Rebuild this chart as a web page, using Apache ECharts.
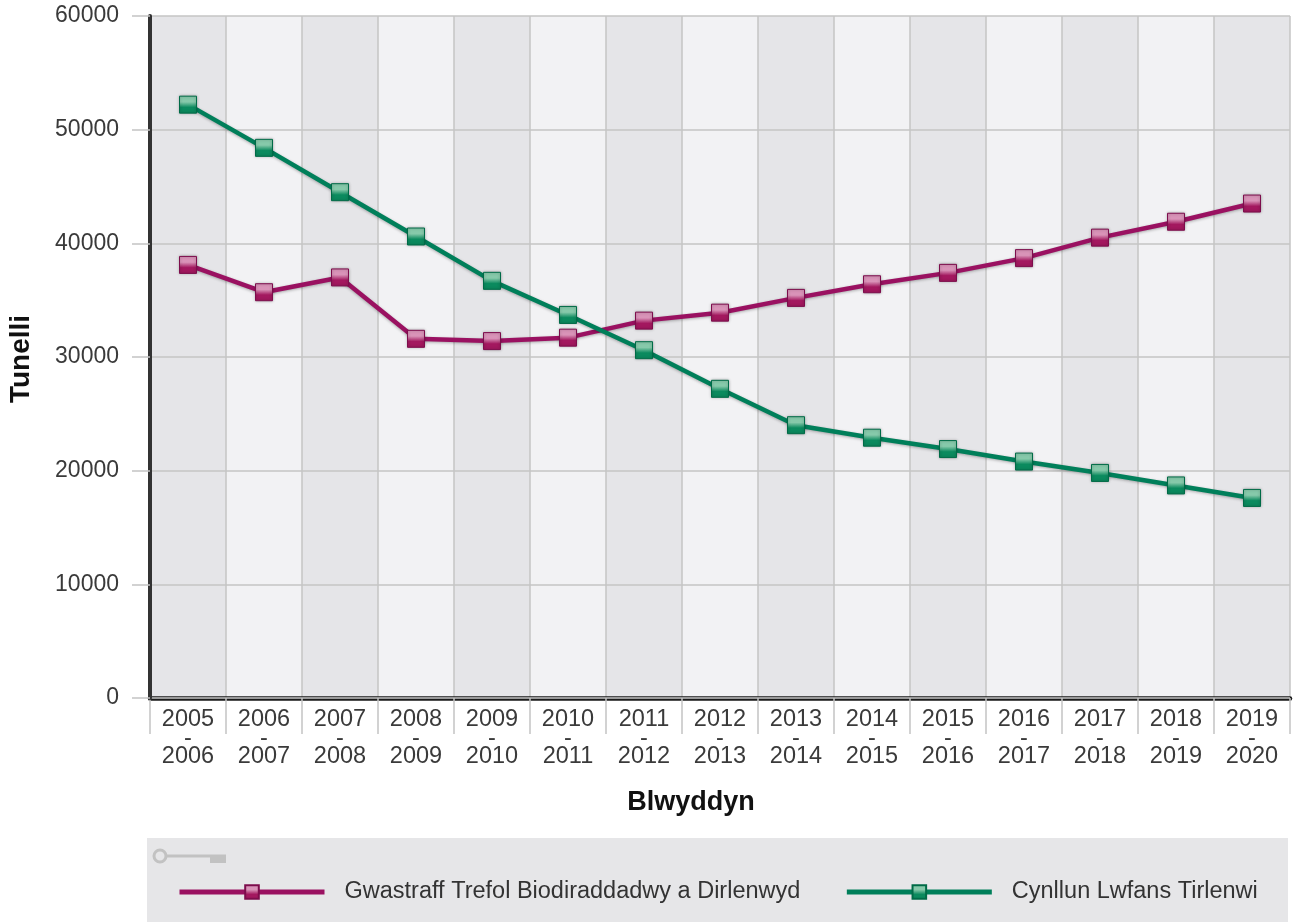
<!DOCTYPE html>
<html>
<head>
<meta charset="utf-8">
<script src="https://cdn.jsdelivr.net/npm/echarts@6/dist/echarts.min.js"></script>
<style>html,body{margin:0;padding:0;background:#fff;}#c{width:1293px;height:922px;}</style>
</head>
<body>
<div id="c"></div>
<script>
const categories = ['2005\n-\n2006','2006\n-\n2007','2007\n-\n2008','2008\n-\n2009','2009\n-\n2010','2010\n-\n2011','2011\n-\n2012','2012\n-\n2013','2013\n-\n2014','2014\n-\n2015','2015\n-\n2016','2016\n-\n2017','2017\n-\n2018','2018\n-\n2019','2019\n-\n2020'];
const seriesNames = ['Gwastraff Trefol Biodiraddadwy a Dirlenwyd','Cynllun Lwfans Tirlenwi'];
const bmwLandfilled = [38100,35700,37000,31600,31400,31700,33200,33900,35200,36400,37400,38700,40500,41900,43500];
const allowance = [52200,48400,44500,40600,36700,33700,30600,27200,24000,22900,21900,20800,19800,18700,17600];
const yTicks = [0,10000,20000,30000,40000,50000,60000];

const FONT = '"Liberation Sans", Arial, sans-serif';
function grad(light, dark) {
  return new echarts.graphic.LinearGradient(0,0,0,1,[
    {offset:0,color:light},{offset:0.35,color:light},{offset:0.65,color:dark},{offset:1,color:dark}
  ]);
}
const magenta = '#9a1161', green = '#007f5a';
const chart = echarts.init(document.getElementById('c'), null, {renderer:'canvas'});
chart.setOption({
  animation:false,
  backgroundColor:'#ffffff',
  grid:{left:150,right:3,top:16,bottom:224,containLabel:false,outerBoundsMode:'none'},
  xAxis:{
    type:'category', data:categories, boundaryGap:true,
    axisLine:{show:true,lineStyle:{color:'#1a1a1a',width:4.5}},
    axisTick:{show:true,length:36,lineStyle:{color:'#c4c4c4',width:1.5}},
    axisLabel:{fontFamily:FONT,fontSize:23.5,color:'#3a3a3a',lineHeight:18.5,margin:12.5,interval:0},
    splitLine:{show:true,lineStyle:{color:'#c4c4c4',width:1.5}},
    splitArea:{show:true,areaStyle:{color:['#e5e5e8','#f2f2f4']}}
  },
  yAxis:{
    type:'value', min:yTicks[0], max:yTicks[yTicks.length-1], interval:10000,
    axisLine:{show:true,lineStyle:{color:'#333333',width:4}},
    axisTick:{show:true,length:18,lineStyle:{color:'#c4c4c4',width:1.5}},
    axisLabel:{fontFamily:FONT,fontSize:23,color:'#3a3a3a',margin:31,formatter:function(v){return String(v);}},
    splitLine:{show:true,lineStyle:{color:'#c4c4c4',width:1.5}},
    z:3
  },
  legend:{
    left:172, top:875, itemWidth:145, itemHeight:17, itemGap:44,
    lineStyle:{width:5},
    textStyle:{fontFamily:FONT,fontSize:23.5,color:'#333',padding:[0,0,0,15]},
    data:seriesNames
  },
  graphic:[
    {type:'rect',shape:{x:147,y:838,width:1141,height:84},style:{fill:'#e6e6e8'},z:-10},
    {type:'group',z:-5,children:[
      {type:'circle',shape:{cx:160,cy:856,r:6},style:{fill:'none',stroke:'#c2c2c2',lineWidth:3}},
      {type:'rect',shape:{x:166,y:854.5,width:60,height:3},style:{fill:'#c2c2c2'}},
      {type:'rect',shape:{x:210,y:856,width:16,height:7},style:{fill:'#c2c2c2'}}
    ]},
    {type:'text',style:{text:'Blwyddyn',font:'bold 27px "Liberation Sans", Arial, sans-serif',fill:'#111',x:691,y:803,textAlign:'center',textVerticalAlign:'middle'}},
    {type:'text',x:21,y:359,rotation:Math.PI/2,style:{text:'Tunelli',font:'bold 28px "Liberation Sans", Arial, sans-serif',fill:'#111',x:0,y:0,textAlign:'center',textVerticalAlign:'middle'}}
  ],
  series:[
    {name:seriesNames[0],type:'line',data:bmwLandfilled,symbol:'rect',symbolSize:17,
     lineStyle:{color:magenta,width:4.5,shadowBlur:3,shadowColor:'rgba(0,0,0,0.3)',shadowOffsetY:1},
     itemStyle:{color:grad('#d993b8','#a3185f'),borderColor:'#7d0d4c',borderWidth:1,shadowBlur:3,shadowColor:'rgba(0,0,0,0.3)'},z:10},
    {name:seriesNames[1],type:'line',data:allowance,symbol:'rect',symbolSize:17,
     lineStyle:{color:green,width:4.5,shadowBlur:3,shadowColor:'rgba(0,0,0,0.3)',shadowOffsetY:1},
     itemStyle:{color:grad('#86c9aa','#0b8a5e'),borderColor:'#006b47',borderWidth:1,shadowBlur:3,shadowColor:'rgba(0,0,0,0.3)'},z:10}
  ]
});
</script>
</body>
</html>
